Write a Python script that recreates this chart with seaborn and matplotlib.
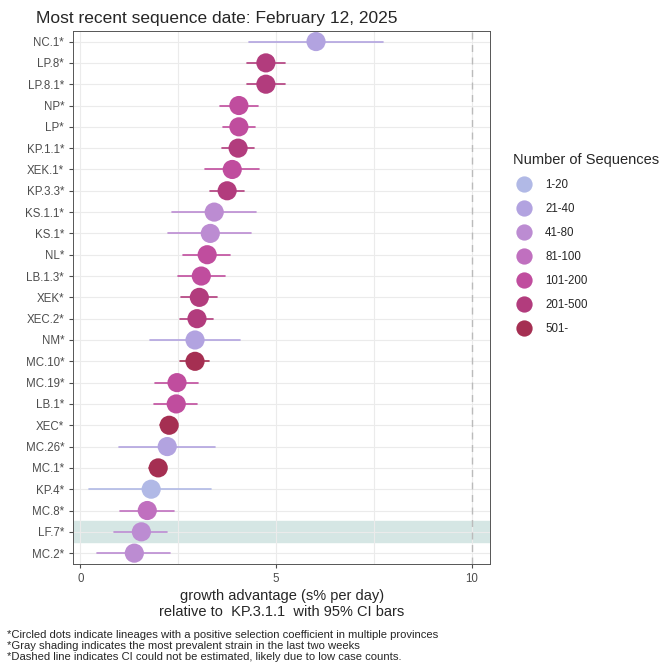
import numpy as np
import pandas as pd
import seaborn as sns
import matplotlib.pyplot as plt

lineages = ["NC.1*", "LP.8*", "LP.8.1*", "NP*", "LP*", "KP.1.1*", "XEK.1*", "KP.3.3*",
            "KS.1.1*", "KS.1*", "NL*", "LB.1.3*", "XEK*", "XEC.2*", "NM*", "MC.10*",
            "MC.19*", "LB.1*", "XEC*", "MC.26*", "MC.1*", "KP.4*", "MC.8*", "LF.7*", "MC.2*"]
growth = [6.02, 4.74, 4.74, 4.05, 4.05, 4.03, 3.88, 3.75, 3.42, 3.32, 3.24, 3.09, 3.04,
          2.98, 2.93, 2.93, 2.47, 2.45, 2.27, 2.22, 1.99, 1.81, 1.71, 1.56, 1.38]
ci_low = [4.30, 4.26, 4.26, 3.57, 3.65, 3.62, 3.19, 3.32, 2.35, 2.24, 2.63, 2.50, 2.58,
          2.55, 1.79, 2.55, 1.92, 1.89, 2.04, 0.99, 1.76, 0.23, 1.02, 0.87, 0.43]
ci_high = [7.73, 5.23, 5.23, 4.54, 4.46, 4.44, 4.57, 4.18, 4.49, 4.36, 3.83, 3.70, 3.50,
           3.40, 4.08, 3.29, 3.01, 2.99, 2.47, 3.44, 2.19, 3.34, 2.40, 2.22, 2.30]
counts = ["21-40", "201-500", "201-500", "101-200", "101-200", "201-500", "101-200", "201-500",
          "41-80", "41-80", "101-200", "101-200", "201-500", "201-500", "21-40", "501-",
          "101-200", "101-200", "501-", "21-40", "501-", "1-20", "81-100", "41-80", "41-80"]
count_levels = ["1-20", "21-40", "41-80", "81-100", "101-200", "201-500", "501-"]
count_colors = ["#b1b9e6", "#b2a3e0", "#bc8cd2", "#c070bf", "#c04d9e", "#b23c7d", "#a52f52"]
highlight = ["LF.7*"]

df = pd.DataFrame({"lineage": lineages, "growth": growth, "lo": ci_low, "hi": ci_high,
                   "count": counts})
palette = dict(zip(count_levels, count_colors))

sns.set_style("white")
plt.rcParams["font.family"] = ["Liberation Sans", "DejaVu Sans"]
fig, ax = plt.subplots(figsize=(6.72, 6.72), dpi=100)
fig.subplots_adjust(left=0.109, right=0.729, top=0.954, bottom=0.161)

ypos = np.arange(len(lineages))
for y, lab in zip(ypos, lineages):
    if lab in highlight:
        ax.axhspan(y - 0.5, y + 0.5, color="#d5e6e4", zorder=0)
ax.axvline(10, color="#bbbbbb", linestyle=(0, (5, 4)), lw=1, zorder=1)
for y, r in zip(ypos, df.itertuples()):
    ax.plot([r.lo, r.hi], [y, y], color=palette[r.count], lw=1.2, zorder=2)
sns.scatterplot(data=df, x="growth", y="lineage", hue="count", hue_order=count_levels,
                palette=palette, s=190, edgecolor="none", ax=ax, zorder=3, legend=True)

ax.set_ylim(len(lineages) - 0.5, -0.5)
ax.set_xlim(-0.18, 10.46)
ax.set_xticks([0, 5, 10])
ax.set_xticks([2.5, 7.5], minor=True)
ax.grid(True, which="both", color="#ebebeb", lw=0.8)
ax.set_axisbelow(True)
for s in ax.spines.values():
    s.set_color("#555555")
    s.set_linewidth(0.7)
ax.tick_params(axis="both", labelsize=8.3, colors="#4d4d4d", length=3, left=True, bottom=True)
ax.set_ylabel("")
ax.set_xlabel("growth advantage (s% per day)\nrelative to  KP.3.1.1  with 95% CI bars",
              fontsize=10.5, labelpad=3)
ax.set_title("Most recent sequence date: February 12, 2025", fontsize=12.5, loc="left", x=-0.09)

handles, labels = ax.get_legend_handles_labels()
ax.legend(handles, labels, title="Number of Sequences", loc="center left",
          bbox_to_anchor=(1.03, 0.6), frameon=False, fontsize=8.3, title_fontsize=10.5,
          markerscale=0.85, labelspacing=1.05, handletextpad=0.8, alignment="left")

fig.text(0.01, 0.015,
         "*Circled dots indicate lineages with a positive selection coefficient in multiple provinces\n"
         "*Gray shading indicates the most prevalent strain in the last two weeks\n"
         "*Dashed line indicates CI could not be estimated, likely due to low case counts.",
         fontsize=8.1, va="bottom", linespacing=1.15)

fig.savefig("out.png", dpi=100)
